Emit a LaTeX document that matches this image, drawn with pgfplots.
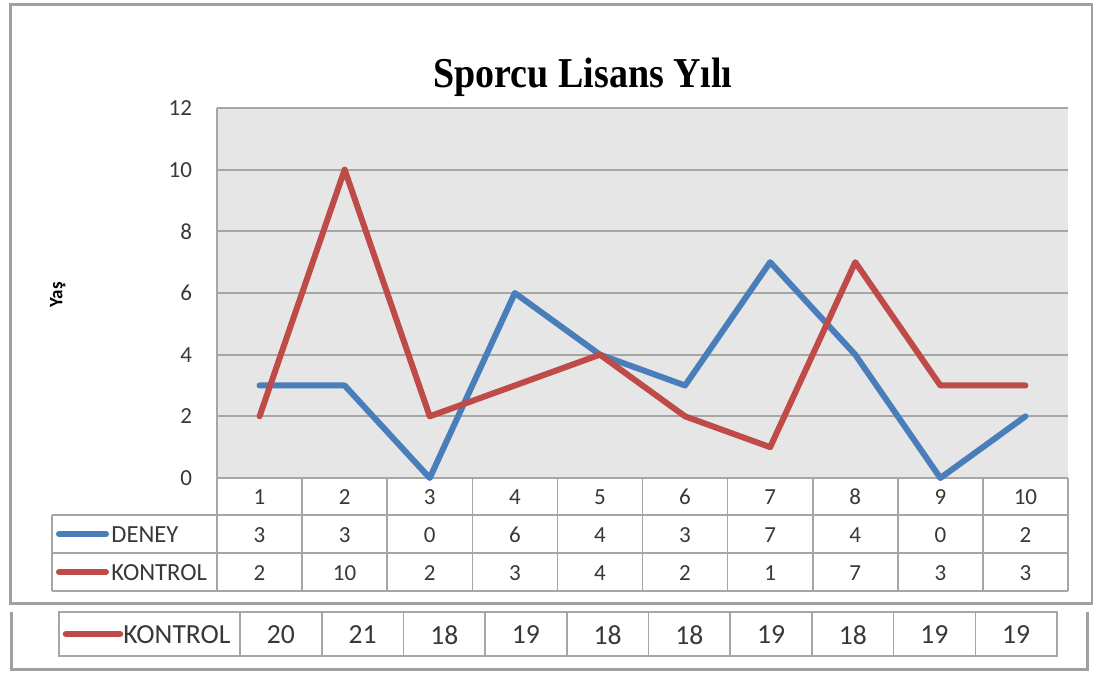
\documentclass[border=0pt]{standalone}
\usepackage{pgfplots}
\pgfplotsset{compat=1.18}
\usepackage{fontspec}
\setmainfont{Carlito}
\newfontfamily\titlefont{Liberation Serif}
\definecolor{deney}{HTML}{4A7EBB}
\definecolor{kontrol}{HTML}{BE4B48}
\definecolor{plotbg}{HTML}{E6E6E6}
\definecolor{gridc}{HTML}{A6A6A6}
\definecolor{framec}{HTML}{A0A0A0}
\definecolor{txt}{HTML}{383838}
\begin{document}
\begin{tikzpicture}
\path[use as bounding box] (0pt,0pt) rectangle (546.5pt,-336.5pt);
\begin{axis}[
 at={(108.5pt,-239pt)}, anchor=south west, scale only axis,
 width=425.5pt, height=185pt,
 xmin=0.5, xmax=10.5, ymin=0, ymax=12,
 ytick={0,2,...,12}, xtick=\empty,
 axis line style={draw=none},
 axis background/.style={fill=plotbg},
 ymajorgrids, grid style={draw=gridc, line width=0.9pt},
 major tick length=0pt,
 yticklabel style={font=\fontsize{11.5}{13}\selectfont, text=txt, xshift=-9pt},
 /pgf/number format/assume math mode=true,
 clip=false,
 ylabel={\bfseries Yaş},
 ylabel style={at={(axis description cs:-0.187,0.495)}, anchor=center, font=\fontsize{9.5}{11}\selectfont},
]
\draw[gridc, line width=0.9pt] (axis cs:0.5,0) -- (axis cs:0.5,12);
\addplot[deney, line width=3pt, line join=round, line cap=round] coordinates {(1,3)(2,3)(3,0)(4,6)(5,4)(6,3)(7,7)(8,4)(9,0)(10,2)};
\addplot[kontrol, line width=3pt, line join=round, line cap=round] coordinates {(1,2)(2,10)(3,2)(4,3)(5,4)(6,2)(7,1)(8,7)(9,3)(10,3)};
\end{axis}
\begin{scope}[x=0.5pt, y=-0.5pt]
% title
\node at (583,77) {\scalebox{1}[1.12]{\titlefont\bfseries\fontsize{19}{22}\selectfont Sporcu Lisans Yılı}};
% frames
\draw[framec, line width=1.5pt] (10,5) -- (1092,5) -- (1092,604) -- (10,604) -- cycle;
\draw[framec, line width=1.5pt] (11,612) -- (11,669) -- (1087,669) -- (1087,612);
% upper data table
\begin{scope}[gridc, line width=0.8pt]
\draw (52,515) -- (1068,515);
\draw (52,553) -- (1068,553);
\draw (52,591) -- (1068,591);
\draw (52,515) -- (52,591);
\foreach \k in {0,...,10} \draw ({217+85.1*\k},478) -- ({217+85.1*\k},591);
\end{scope}
\begin{scope}[font=\fontsize{11.5}{13}\selectfont, text=txt]
\foreach \v [count=\i] in {1,2,3,4,5,6,7,8,9,10} \node at ({217+85.1*(\i-0.5)},497) {\v};
\foreach \v [count=\i] in {3,3,0,6,4,3,7,4,0,2} \node at ({217+85.1*(\i-0.5)},535) {\v};
\foreach \v [count=\i] in {2,10,2,3,4,2,1,7,3,3} \node at ({217+85.1*(\i-0.5)},573) {\v};
\end{scope}
\begin{scope}[font=\fontsize{12.3}{14}\selectfont, text=txt]
\node[anchor=west, inner sep=0pt] at (111,535) {DENEY};
\node[anchor=west, inner sep=0pt] at (111,573) {KONTROL};
\end{scope}
\draw[deney, line width=3pt, line cap=round] (59,534) -- (106,534);
\draw[kontrol, line width=3pt, line cap=round] (59,572) -- (106,572);
% lower table
\begin{scope}[gridc, line width=0.8pt]
\draw (59,612) rectangle (1057,656);
\foreach \k in {0,...,9} \draw ({240+81.7*\k},612) -- ({240+81.7*\k},656);
\end{scope}
\begin{scope}[font=\fontsize{13.8}{15}\selectfont, text=txt]
\foreach \v [count=\i] in {20,21,18,19,18,18,19,18,19,19} \node at ({240+81.7*(\i-0.5)},635) {\v};
\node[anchor=west, inner sep=0pt] at (123,635) {KONTROL};
\end{scope}
\draw[kontrol, line width=3.3pt, line cap=round] (66,634) -- (120,634);
\end{scope}
\end{tikzpicture}
\end{document}
